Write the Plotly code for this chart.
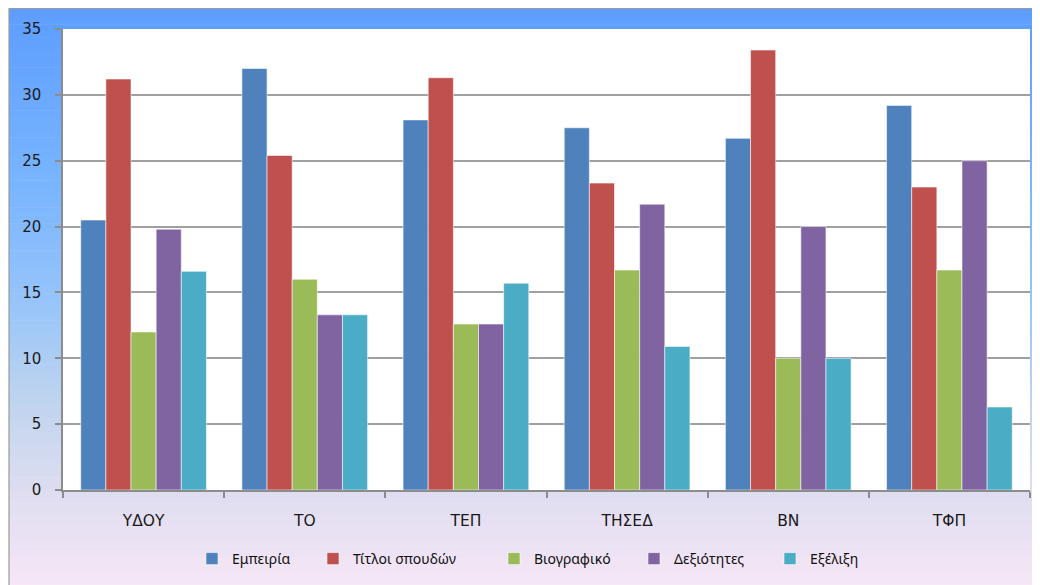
import plotly.graph_objects as go

categories = ["ΥΔΟΥ", "ΤΟ", "ΤΕΠ", "ΤΗΣΕΔ", "ΒΝ", "ΤΦΠ"]
series_names = ["Εμπειρία", "Τίτλοι σπουδών", "Βιογραφικό", "Δεξιότητες", "Εξέλιξη"]
empeiria = [20.5, 32.0, 28.1, 27.5, 26.7, 29.2]
titloi = [31.2, 25.4, 31.3, 23.3, 33.4, 23.0]
viografiko = [12.0, 16.0, 12.6, 16.7, 10.0, 16.7]
dexiotites = [19.8, 13.3, 12.6, 21.7, 20.0, 25.0]
exelixi = [16.6, 13.3, 15.7, 10.9, 10.0, 6.3]
colors = ["#4F81BD", "#C0504D", "#9BBB59", "#8064A2", "#4BACC6"]

# page body has an 8px default margin; work in page pixels and shift
OFF = 8
W, H = 1040, 585
PL, PR, PT, PB = 63, 1030, 29, 490  # plot area in page pixels
L = PL - OFF
T = PT - OFF
R = W - (PR - OFF)
B = H - (PB - OFF)
PW, PH = PR - PL, PB - PT


def px_x(x):
    return (x - PL) / PW


def px_y(y):
    return (PB - y) / PH


legend_ids = ["legend", "legend2", "legend3", "legend4", "legend5"]
legend_text_x = [222, 343, 524, 664, 800]  # page x where each legend label starts

fig = go.Figure()
for name, vals, col, lid in zip(series_names, [empeiria, titloi, viografiko, dexiotites, exelixi], colors, legend_ids):
    fig.add_trace(go.Bar(
        x=categories, y=vals, name=name, legend=lid,
        marker=dict(color=col, line=dict(color="rgba(255,255,255,0.55)", width=1)),
    ))

# gradient background via strips (page pixel stops)
stops = [(7, (92, 157, 255)), (180, (120, 180, 255)), (300, (150, 196, 250)),
         (400, (190, 212, 238)), (490, (222, 221, 240)), (600, (250, 232, 248))]


def color_at(y):
    for (y0, c0), (y1, c1) in zip(stops[:-1], stops[1:]):
        if y0 <= y <= y1:
            t = (y - y0) / (y1 - y0)
            return tuple(round(a + (b - a) * t) for a, b in zip(c0, c1))
    return stops[-1][1]


shapes = []
top, bottom = 8, 600
n = 110
step = (bottom - top) / n
for i in range(n):
    y0 = top + i * step
    y1 = y0 + step + 0.6
    c = color_at(y0 + step / 2)
    shapes.append(dict(type="rect", xref="paper", yref="paper",
                       x0=px_x(9), x1=px_x(1060), y0=px_y(y1), y1=px_y(y0),
                       fillcolor="rgb(%d,%d,%d)" % c, line=dict(width=0), layer="below"))
# white plot area
shapes.append(dict(type="rect", xref="x domain", yref="y domain", x0=0, x1=1, y0=0, y1=1,
                   fillcolor="white", line=dict(width=0), layer="below"))
# outer frame
shapes.append(dict(type="rect", xref="paper", yref="paper",
                   x0=px_x(9), x1=px_x(1070), y0=px_y(620), y1=px_y(8.5),
                   fillcolor="rgba(0,0,0,0)", line=dict(color="#9a9a9a", width=1.2), layer="above"))

legend_font = dict(family="Noto Sans", size=14, color="#111111")
legends = {}
for lid, tx in zip(legend_ids, legend_text_x):
    legends[lid] = dict(orientation="h", x=px_x(tx - 30), xanchor="left",
                        y=px_y(559), yanchor="middle", font=legend_font,
                        bgcolor="rgba(0,0,0,0)", itemwidth=30)

fig.update_layout(
    width=W, height=H,
    margin=dict(l=L, r=R, t=T, b=B, autoexpand=False),
    paper_bgcolor="white", plot_bgcolor="white",
    barmode="group", bargap=0.22, bargroupgap=0,
    shapes=shapes,
    showlegend=True,
    font=dict(family="DejaVu Sans", size=13, color="#1a1a1a"),
    **legends,
)
fig.update_xaxes(showline=True, linecolor="#8c8c8c", linewidth=1.5,
                 ticks="outside", tickson="boundaries", ticklen=6, tickcolor="#8c8c8c", tickwidth=1.5,
                 tickfont=dict(family="DejaVu Sans", size=15.5, color="#1a1a1a"),
                 ticklabelstandoff=16, showgrid=False)
fig.update_yaxes(range=[0, 35], dtick=5, tick0=0, showline=True, linecolor="#8c8c8c", linewidth=1.5,
                 ticks="outside", ticklen=6, tickcolor="#8c8c8c", tickwidth=1.5,
                 showgrid=True, gridcolor="#a0a0a0", gridwidth=1.5, zeroline=False,
                 tickfont=dict(family="DejaVu Sans", size=15, color="#1a1a1a"),
                 ticklabelstandoff=11, mirror=False)

fig.write_html("out.html")
